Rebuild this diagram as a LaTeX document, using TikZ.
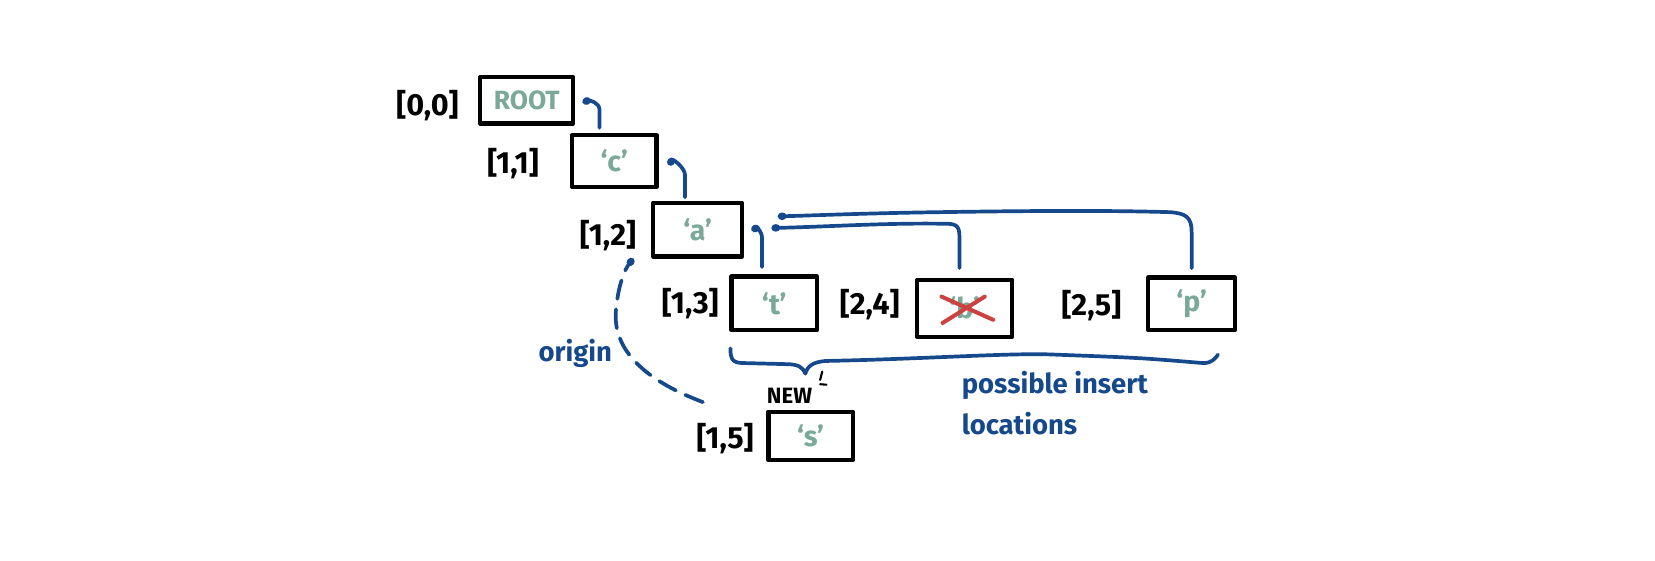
\documentclass[tikz,border=0pt]{standalone}
\usepackage{fontspec}
\setmainfont{Fira Sans}
\usetikzlibrary{calc,arrows.meta}
\definecolor{inkblue}{RGB}{22,72,140}
\definecolor{tealtxt}{RGB}{122,168,153}
\definecolor{xred}{RGB}{205,65,65}
\begin{document}
\begin{tikzpicture}[x=1pt,y=1pt,
  cell/.style={draw=black, line width=4pt, line join=round, inner sep=0pt, outer sep=0pt,
    text=tealtxt, font=\fontsize{27}{30}\selectfont\bfseries},
  idx/.style={inner sep=0pt, font=\fontsize{29}{32}\selectfont\bfseries},
  link/.style={draw=inkblue, line width=3.5pt, line cap=round, line join=round,
    -{Circle[length=8pt,width=7pt]}},
  note/.style={inner sep=0pt, text=inkblue, font=\fontsize{26}{38}\selectfont\bfseries}]
\fill[white] (0,0) rectangle (1568,-531.5);
\useasboundingbox (0,0) rectangle (1568,-531.5);

% boxes
\node[cell, minimum width=88pt, minimum height=44pt, font=\fontsize{25}{28}\selectfont\bfseries] (root) at (499,-95) {ROOT};
\node[cell, minimum width=80pt, minimum height=49pt] (c) at (582,-152.5) {‘c’};
\node[cell, minimum width=84pt, minimum height=51pt] (a) at (661,-217.5) {‘a’};
\node[cell, minimum width=81pt, minimum height=51pt] (t) at (733.5,-287.5) {‘t’};
\node[cell, minimum width=90pt, minimum height=54pt] (b) at (914,-292) {‘b’};
\node[cell, minimum width=82pt, minimum height=50pt] (p) at (1129,-288) {‘p’};
\node[cell, minimum width=80pt, minimum height=46pt] (s) at (768,-413) {‘s’};

% cross over b
\draw[xred, line width=3.8pt, line cap=round] ($(b.center)+(-22,11)$) -- ($(b.center)+(27,-11)$);
\draw[xred, line width=3.8pt, line cap=round] ($(b.center)+(-21,-14)$) -- ($(b.center)+(19,11)$);

% index labels
\node[idx] (l00) at (405,-100) {[0,0]};
\node[idx] (l11) at (486,-155) {[1,1]};
\node[idx] (l12) at (576,-223) {[1,2]};
\node[idx] (l13) at (654,-288) {[1,3]};
\node[idx] (l24) at (824,-289) {[2,4]};
\node[idx] (l25) at (1034,-290) {[2,5]};
\node[idx] (l15) at (687,-416) {[1,5]};

% parent links
\draw[link] ($(c.north)+(-14,7)$) -- ++(0,17)
  .. controls ($(c.north)+(-14,31)$) and ($(root.east)+(15,0)$) .. ($(root.east)+(9,-2)$);
\draw[link] ($(a.north)+(-12,5)$) -- ++(0,21)
  .. controls ($(a.north)+(-12,33)$) and ($(c.east)+(16,1.5)$) .. ($(c.east)+(11,-3.5)$);
\draw[link] ($(t.north)+(-11.5,9)$) -- ++(0,27)
  .. controls ($(t.north)+(-11.5,43)$) and ($(a.east)+(14,1.5)$) .. ($(a.east)+(9,-0.5)$);
\draw[link] ($(b.north)+(-5,11)$) -- (909,-224)
  .. controls (909,-213) and (905,-212) .. (895,-212)
  .. controls (840,-211) and (780,-215) .. ($(a.east)+(28,1.5)$);
\draw[link] ($(p.north)+(0,9)$) -- (1129,-220)
  .. controls (1129,-206) and (1124,-202) .. (1108,-201)
  .. controls (1040,-199) and (960,-200) .. (890,-201)
  .. controls (820,-202) and (775,-204) .. ($(a.east)+(34,12.5)$);

% brace
\draw[inkblue, line width=3.5pt, line cap=round, line join=round]
  (692,-330) .. controls (692,-342) and (695,-344) .. (706,-344)
  -- (745,-345) .. controls (756,-345) and (761,-348) .. (763,-354)
  .. controls (765,-347) and (770,-343) .. (782,-342)
  .. controls (880,-340) and (960,-334) .. (1000,-336)
  .. controls (1080,-339) .. (1140,-344)
  .. controls (1148,-344) and (1151,-340) .. (1154,-336);

% NEW
\node[inner sep=0pt, font=\fontsize{21}{24}\selectfont\bfseries] (new) at (748,-375) {NEW};
\draw[line width=2pt, line cap=round] (779,-352) -- (777,-360);
\draw[line width=2pt, line cap=round] (777,-364) -- (783,-364.5);

% origin
\coordinate (orgstart) at (666,-381);
\coordinate (orgend) at (600,-245);
\draw[link, dash pattern=on 18pt off 10pt] (orgstart)
  .. controls (610,-360) and (578,-330) .. (584,-290)
  .. controls (586,-270) and (592,-255) .. (orgend);
\node[note] (origin) at (545,-335) {origin};

\node[note, anchor=north west, align=left] (ins) at (911,-352) {possible insert\\locations};
\end{tikzpicture}
\end{document}
